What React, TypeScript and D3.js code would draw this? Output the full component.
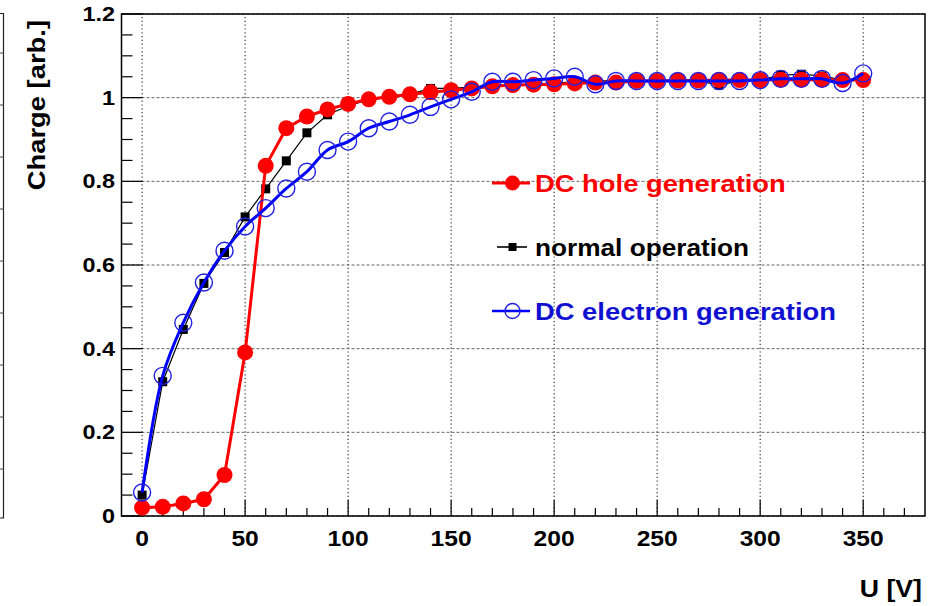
import React from "react";
import * as d3 from "d3";

// ---- data ----
const voltages = [0, 10, 20, 30, 40, 50, 60, 70, 80, 90, 100, 110, 120, 130, 140, 150, 160, 170, 180, 190, 200, 210, 220, 230, 240, 250, 260, 270, 280, 290, 300, 310, 320, 330, 340, 350];

const holeCharge = [0.02, 0.022, 0.03, 0.04, 0.098, 0.391, 0.837, 0.927, 0.955, 0.972, 0.985, 0.996, 1.002, 1.008, 1.013, 1.018, 1.022, 1.027, 1.03, 1.031, 1.032, 1.034, 1.036, 1.036, 1.04, 1.04, 1.041, 1.041, 1.042, 1.042, 1.042, 1.043, 1.043, 1.043, 1.042, 1.042];

const normalCharge = [0.05, 0.321, 0.446, 0.556, 0.63, 0.715, 0.782, 0.849, 0.916, 0.959, 0.98, 0.995, 1.0, 1.008, 1.022, 1.022, 1.025, 1.03, 1.03, 1.033, 1.035, 1.038, 1.04, 1.04, 1.04, 1.04, 1.04, 1.04, 1.03, 1.04, 1.042, 1.054, 1.056, 1.052, 1.042, 1.045];

const electronCharge = [0.056, 0.335, 0.462, 0.558, 0.634, 0.692, 0.736, 0.783, 0.823, 0.875, 0.895, 0.927, 0.943, 0.959, 0.978, 0.996, 1.014, 1.038, 1.038, 1.042, 1.046, 1.05, 1.032, 1.04, 1.04, 1.04, 1.04, 1.04, 1.04, 1.04, 1.042, 1.045, 1.045, 1.045, 1.035, 1.058];

const xTickValues = [0, 50, 100, 150, 200, 250, 300, 350];
const xTickLabels = ["0", "50", "100", "150", "200", "250", "300", "350"];
const yTickValues = [0, 0.2, 0.4, 0.6, 0.8, 1.0, 1.2];
const yTickLabels = ["0", "0.2", "0.4", "0.6", "0.8", "1", "1.2"];

const seriesNames = ["DC hole generation", "normal operation", "DC electron generation"];
const xTitle = "U [V]";
const yTitle = "Charge [arb.]";

// ---- layout ----
const W = 934;
const H = 606;
const FONT = "'Liberation Sans', Arial, Helvetica, sans-serif";
const RED = "#ff0000";
const BLUE = "#0000ff";
const BLACK = "#000000";

const x = d3.scaleLinear().domain([-10, 380]).range([121.5, 925]);
const y = d3.scaleLinear().domain([0, 1.2]).range([516, 14]);

function SText(props: {
  x: number;
  y: number;
  sx?: number;
  rotate?: number;
  anchor?: string;
  size: number;
  fill?: string;
  children: React.ReactNode;
}) {
  const { sx = 1.18, rotate = 0, anchor = "start", size, fill = "#000" } = props;
  return (
    <text
      transform={`translate(${props.x},${props.y}) rotate(${rotate}) scale(${sx},1)`}
      textAnchor={anchor}
      fontFamily={FONT}
      fontWeight="bold"
      fontSize={size}
      fill={fill}
    >
      {props.children}
    </text>
  );
}

export default function App() {
  const [x0, x1] = x.range();
  const [y0, y1] = y.range();

  const xMinor = d3.range(-10, 381, 10).filter((v) => x(v) > x0 + 0.5 && x(v) < x1 - 0.5);
  const yMinor = d3.range(0, 1.2001, 0.05);

  const pts = (vals: number[]) => voltages.map((v, i) => [x(v), y(vals[i])] as [number, number]);
  const straight = d3.line();
  const smooth = d3.line().curve(d3.curveCatmullRom.alpha(0.5));

  const holePts = pts(holeCharge);
  const normalPts = pts(normalCharge);
  const electronPts = pts(electronCharge);

  // stray frame edge of a neighbouring pad on the far left
  const strayTicks = d3.range(53, 517, 52);

  const legendX = 492;
  const legendRows = [183, 247, 311];

  return (
    <svg
      width={W}
      height={H}
      viewBox={`0 0 ${W} ${H}`}
      style={{ position: "absolute", left: 0, top: 0, background: "#fff" }}
    >
      <rect x={0} y={0} width={W} height={H} fill="#fff" />

      {/* stray neighbouring frame */}
      <path d={`M0,13.5 H3.5 V518 H0`} fill="none" stroke="#222" strokeWidth={1.2} />
      {strayTicks.map((t) => (
        <line key={t} x1={0} x2={3.5} y1={t} y2={t} stroke="#444" strokeWidth={1} />
      ))}

      {/* grid */}
      {xTickValues.map((v) => (
        <line key={"gx" + v} x1={x(v)} x2={x(v)} y1={y0} y2={y1} stroke="#222" strokeWidth={1.1} strokeDasharray="1.2 2.6" />
      ))}
      {yTickValues.map((v) => (
        <line key={"gy" + v} x1={x0} x2={x1} y1={y(v)} y2={y(v)} stroke="#666" strokeWidth={1} strokeDasharray="3 2" />
      ))}

      {/* frame */}
      <rect x={x0} y={y1} width={x1 - x0} height={y0 - y1} fill="none" stroke="#000" strokeWidth={1.5} />

      {/* x ticks (inside) */}
      {xMinor.map((v) => {
        const major = v % 50 === 0;
        return <line key={"tx" + v} x1={x(v)} x2={x(v)} y1={y0} y2={y0 - (major ? 16 : 8)} stroke="#000" strokeWidth={1.2} />;
      })}
      {/* y ticks (inside) */}
      {yMinor.map((v, i) => {
        const major = i % 4 === 0;
        return <line key={"ty" + i} x1={x0} x2={x0 + (major ? 21 : 11)} y1={y(v)} y2={y(v)} stroke="#000" strokeWidth={1.2} />;
      })}

      {/* tick labels */}
      {xTickValues.map((v, i) => (
        <SText key={"lx" + v} x={x(v)} y={546} anchor="middle" size={22} sx={1.12}>
          {xTickLabels[i]}
        </SText>
      ))}
      {yTickValues.map((v, i) => (
        <SText key={"ly" + v} x={115} y={y(v) + 7} anchor="end" size={19.5} sx={1.2}>
          {yTickLabels[i]}
        </SText>
      ))}

      {/* axis titles */}
      <SText x={922} y={597} anchor="end" size={23} sx={1.16}>
        {xTitle}
      </SText>
      <SText x={45} y={20} anchor="end" rotate={-90} size={23} sx={1.19}>
        {yTitle}
      </SText>

      {/* normal operation */}
      <path d={straight(normalPts) || ""} fill="none" stroke={BLACK} strokeWidth={1.2} />
      {normalPts.map(([px, py], i) => (
        <rect key={"n" + i} x={px - 4.5} y={py - 4.5} width={9} height={9} fill={BLACK} />
      ))}

      {/* DC hole generation */}
      <path d={straight(holePts) || ""} fill="none" stroke={RED} strokeWidth={3} />
      {holePts.map(([px, py], i) => (
        <circle key={"h" + i} cx={px} cy={py} r={8} fill={RED} />
      ))}

      {/* DC electron generation */}
      <path d={smooth(electronPts) || ""} fill="none" stroke={BLUE} strokeWidth={3} />
      {electronPts.map(([px, py], i) => (
        <circle key={"e" + i} cx={px} cy={py} r={8.5} fill="none" stroke="#2020e0" strokeWidth={1.4} />
      ))}

      {/* legend */}
      <g>
        <line x1={legendX} x2={legendX + 38} y1={legendRows[0]} y2={legendRows[0]} stroke={RED} strokeWidth={3} />
        <circle cx={legendX + 20.5} cy={legendRows[0]} r={7.5} fill={RED} />
        <SText x={535} y={legendRows[0] + 8.5} size={23} sx={1.19} fill={RED}>
          {seriesNames[0]}
        </SText>

        <line x1={legendX + 5} x2={legendX + 35} y1={legendRows[1]} y2={legendRows[1]} stroke={BLACK} strokeWidth={1.6} />
        <rect x={legendX + 20.5 - 4} y={legendRows[1] - 4} width={8} height={8} fill={BLACK} />
        <SText x={535} y={legendRows[1] + 8.5} size={23} sx={1.14} fill={BLACK}>
          {seriesNames[1]}
        </SText>

        <line x1={legendX} x2={legendX + 38} y1={legendRows[2]} y2={legendRows[2]} stroke={BLUE} strokeWidth={2.5} />
        <circle cx={legendX + 20.5} cy={legendRows[2]} r={7.5} fill="none" stroke="#2020e0" strokeWidth={1.4} />
        <SText x={535} y={legendRows[2] + 8.5} size={23} sx={1.19} fill="#1010d0">
          {seriesNames[2]}
        </SText>
      </g>
    </svg>
  );
}
